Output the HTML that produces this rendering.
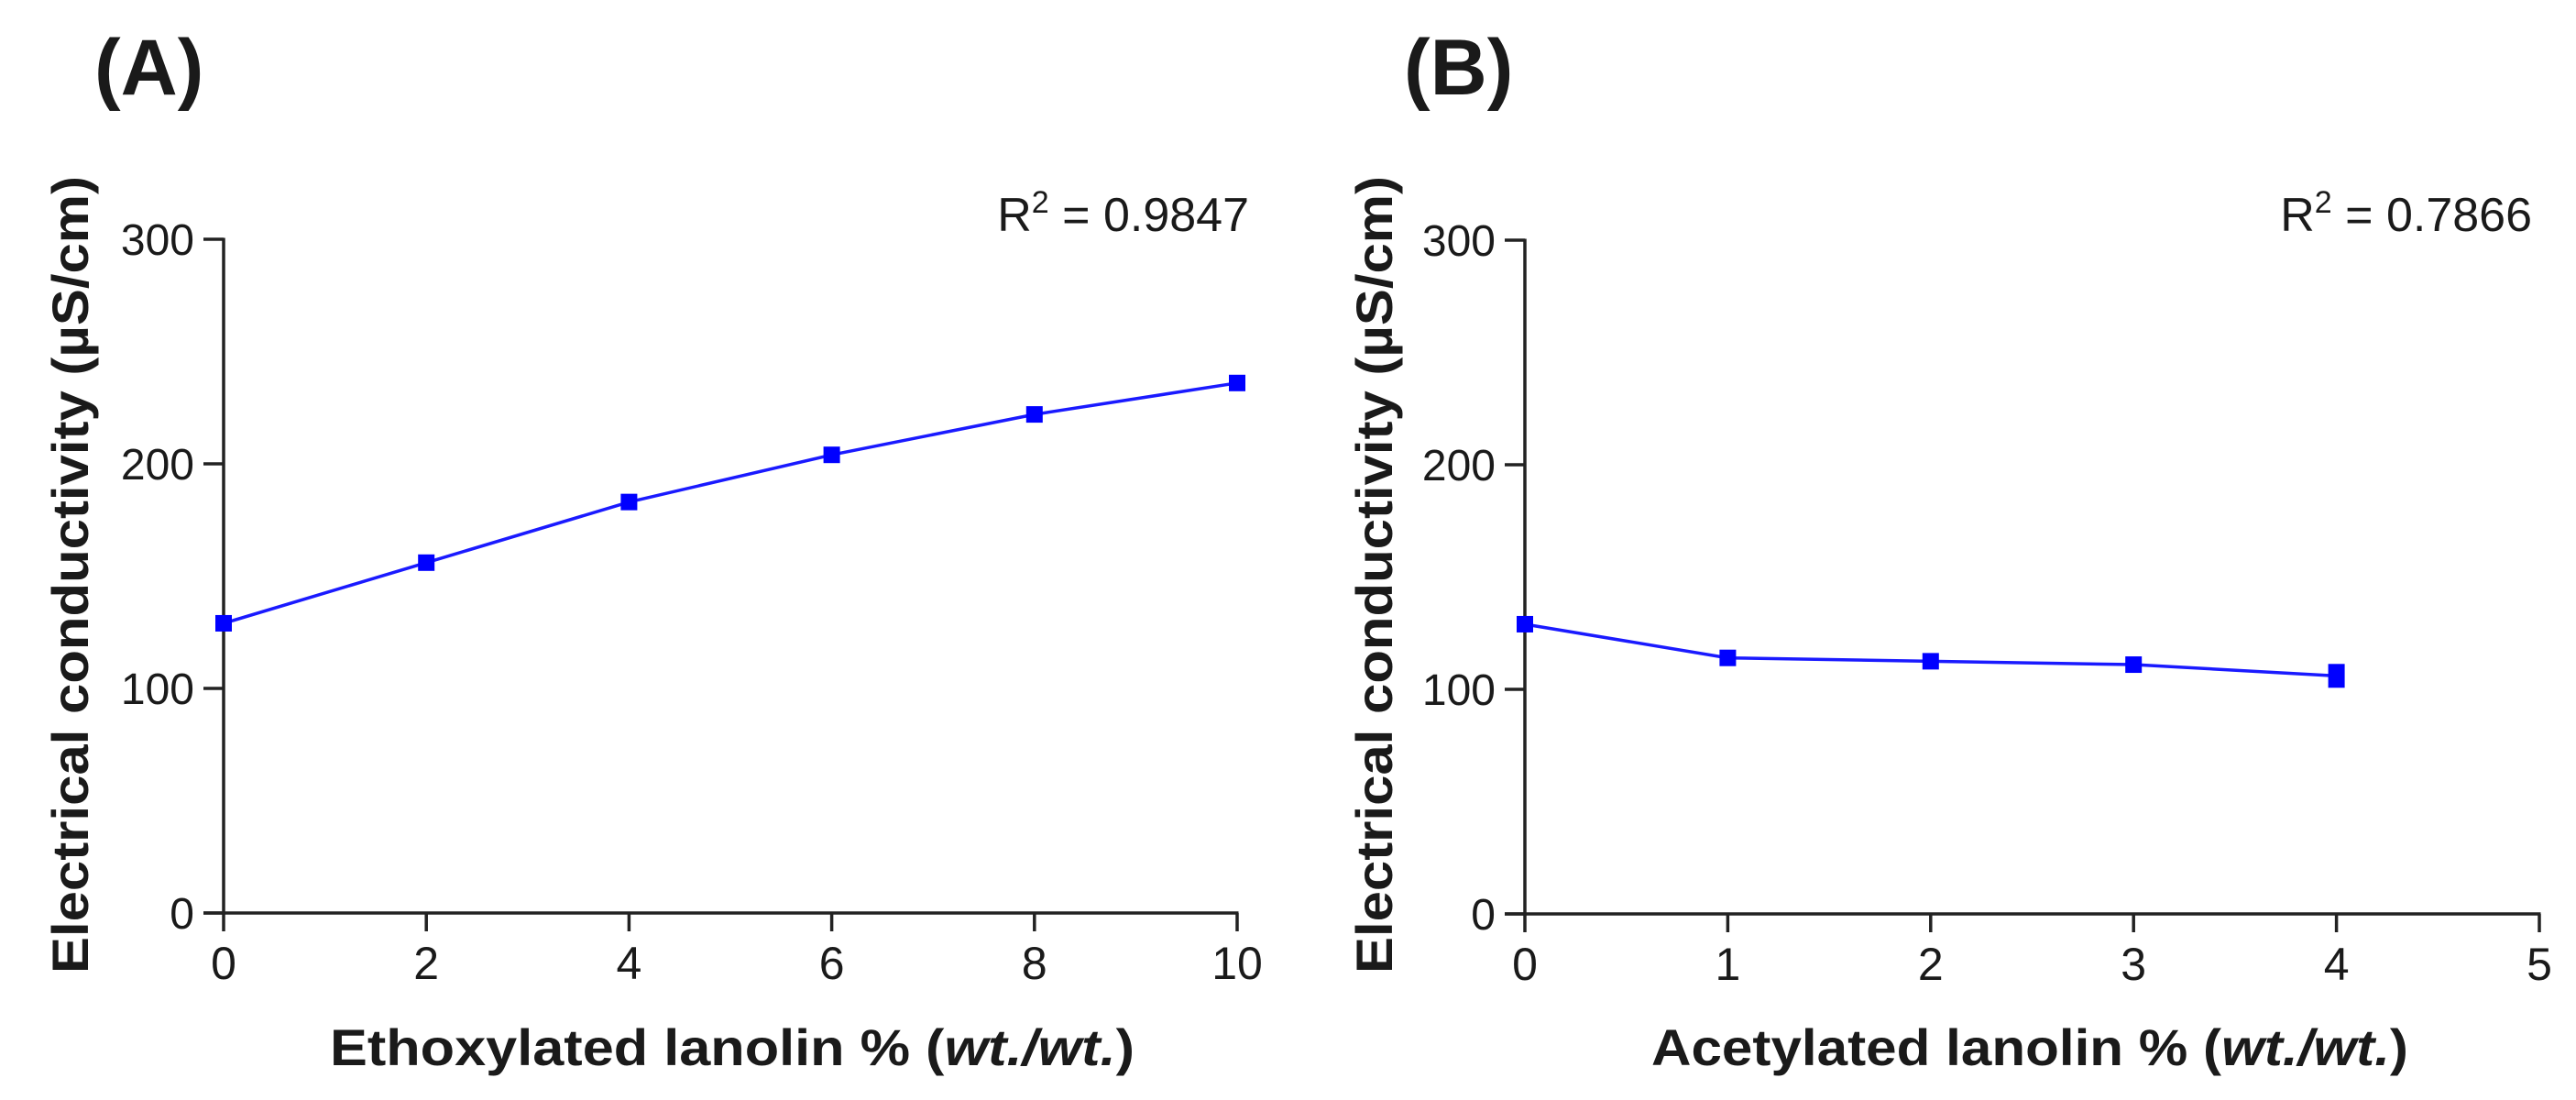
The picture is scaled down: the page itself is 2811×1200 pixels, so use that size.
<!DOCTYPE html>
<html><head><meta charset="utf-8"><style>
html,body{margin:0;padding:0;background:#fff;}
svg{display:block;}
text{font-family:"Liberation Sans",Arial,sans-serif;fill:#1a1a1a;}
</style></head><body>
<svg id="fig" width="2811" height="1200" viewBox="0 0 2811 1200" xmlns="http://www.w3.org/2000/svg">
<rect width="2811" height="1200" fill="#fff"/>
</svg>
<script>
// Panel A data
const catsA = [0, 2, 4, 6, 8, 10];
const valsA = [129, 156, 183, 204, 222, 236];
const xTicksA = [0, 2, 4, 6, 8, 10];
// Panel B data
const catsB = [0, 1, 2, 3, 4];
const valsB = [129, 114, 112.5, 111, 106];
const xTicksB = [0, 1, 2, 3, 4, 5];
const yTicks = [0, 100, 200, 300];

const NS = 'http://www.w3.org/2000/svg';
const svg = document.getElementById('fig');
function mk(tag, attrs, parent) {
  const e = document.createElementNS(NS, tag);
  for (const k in attrs) e.setAttribute(k, attrs[k]);
  (parent || svg).appendChild(e);
  return e;
}

function panel(cfg) {
  const g = mk('g', {});
  
  
  const xs = v => cfg.x0 + (v - cfg.xmin) / (cfg.xmax - cfg.xmin) * (cfg.x1 - cfg.x0);
  const ys = v => cfg.y0 - v / 300 * (cfg.y0 - cfg.y1);

  const ya = mk('line', {x1: xs(cfg.xmin), y1: ys(0) + 2, x2: xs(cfg.xmin), y2: ys(300) - 1.5, stroke: '#222', 'stroke-width': 3.5}, g);
  
  
  const xa = mk('line', {x1: xs(cfg.xmin) - 22, y1: ys(0), x2: xs(cfg.xmax) + 1.5, y2: ys(0), stroke: '#222', 'stroke-width': 3.5}, g);
  
  

  yTicks.forEach(t => {
    const tk = mk('line', {x1: xs(cfg.xmin) - 22, y1: ys(t), x2: xs(cfg.xmin), y2: ys(t), stroke: '#222', 'stroke-width': 3.5}, g);
    
    
    const tl = mk('text', {x: xs(cfg.xmin) - 32, y: ys(t) + 17, 'font-size': 48, 'text-anchor': 'end'}, g);
    tl.textContent = t;
    
    
  });
  cfg.xticks.forEach(t => {
    const tk = mk('line', {x1: xs(t), y1: ys(0), x2: xs(t), y2: ys(0) + 20, stroke: '#222', 'stroke-width': 3.5}, g);
    
    
    const tl = mk('text', {x: xs(t), y: ys(0) + 72, 'font-size': 50, 'text-anchor': 'middle'}, g);
    tl.textContent = t;
    
    
  });

  const pts = cfg.cats.map((c, i) => xs(c).toFixed(1) + ',' + ys(cfg.vals[i]).toFixed(1)).join(' ');
  const pl = mk('polyline', {points: pts, fill: 'none', stroke: '#1a1aff', 'stroke-width': 3.5}, g);
  
  
  cfg.cats.forEach((c, i) => {
    const tall = (cfg.tallLast && i === cfg.cats.length - 1) ? 13 : 9;
    const m = mk('rect', {x: xs(c) - 9, y: ys(cfg.vals[i]) - tall, width: 18, height: tall * 2, fill: '#0000ff'}, g);
    
    
  });

  const lab = mk('text', {x: cfg.labX, y: 103, 'font-size': 86, 'font-weight': 'bold', fill: '#000'}, g);
  lab.textContent = cfg.label;
  
  

  const xt = mk('text', {x: cfg.xtX, y: 1162, 'font-size': 56, 'font-weight': 'bold', fill: '#000', textLength: cfg.xtLen, lengthAdjust: 'spacingAndGlyphs'}, g);
  xt.innerHTML = cfg.xtitle + ' % (<tspan font-style="italic">wt./wt.</tspan>)';
  
  

  const yt = mk('text', {x: 0, y: 0, 'font-size': 56, 'font-weight': 'bold', fill: '#000', 'text-anchor': 'middle', textLength: 870, lengthAdjust: 'spacingAndGlyphs', transform: 'translate(' + cfg.ytX + ',627) rotate(-90)'}, g);
  yt.textContent = 'Electrical conductivity (µS/cm)';
  
  

  const r2 = mk('text', {x: cfg.r2X, y: 252, 'font-size': 52, 'text-anchor': 'end'}, g);
  r2.innerHTML = 'R<tspan dy="-20" font-size="34">2</tspan><tspan dy="20"> = ' + cfg.r2 + '</tspan>';
  
  
}

panel({id: 'a', x0: 244, x1: 1350, xmin: 0, xmax: 10, y0: 996, y1: 261, cats: catsA, vals: valsA, xticks: xTicksA,
  label: '(A)', labX: 103, xtitle: 'Ethoxylated lanolin', xtX: 360, xtLen: 878, ytX: 96, r2X: 1363, r2: '0.9847', tallLast: false});
panel({id: 'b', x0: 1664, x1: 2771, xmin: 0, xmax: 5, y0: 997, y1: 262, cats: catsB, vals: valsB, xticks: xTicksB,
  label: '(B)', labX: 1532, xtitle: 'Acetylated lanolin', xtX: 1802, xtLen: 826, ytX: 1519, r2X: 2763, r2: '0.7866', tallLast: true});
</script>
</body></html>
